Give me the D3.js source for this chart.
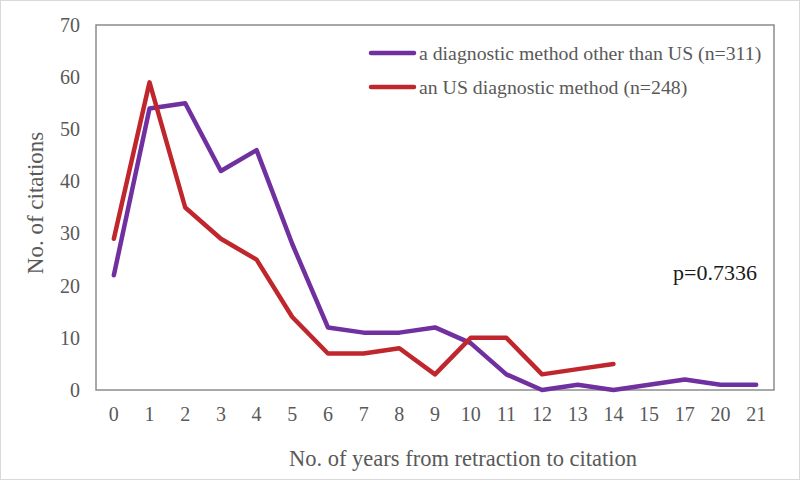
<!DOCTYPE html>
<html><head><meta charset="utf-8">
<script src="https://cdn.jsdelivr.net/npm/d3@7"></script>
<style>body{margin:0;background:#fff}svg{display:block}</style>
</head><body>
<script>
const categories = ["0","1","2","3","4","5","6","7","8","9","10","11","12","13","14","15","17","20","21"];
const otherValues = [22,54,55,42,46,28,12,11,11,12,9,3,0,1,0,1,2,1,1];
const usValues = [29,59,35,29,25,14,7,7,8,3,10,10,3,4,5];
const yTicks = [0,10,20,30,40,50,60,70];
const seriesNames = ["a diagnostic method other than US (n=311)","an US diagnostic method (n=248)"];
const pText = "p=0.7336";

const W=800,H=480;
const m={l:96,t:25,r:774,b:390};
const svg=d3.select("body").append("svg").attr("width",W).attr("height",H);
svg.append("rect").attr("x",0.5).attr("y",0.5).attr("width",W-1).attr("height",H-1).attr("fill","#fff").attr("stroke","#d9d9d9");
const x=d3.scaleBand().domain(categories).range([m.l,m.r]);
const y=d3.scaleLinear().domain([0,70]).range([m.b,m.t]);
const font="'Liberation Serif','Times New Roman',serif";
svg.append("rect").attr("x",m.l).attr("y",m.t).attr("width",m.r-m.l).attr("height",m.b-m.t).attr("fill","none").attr("stroke","#8c8c8c").attr("stroke-width",1.5);

const yAx=svg.append("g").attr("transform",`translate(${m.l},0)`).call(d3.axisLeft(y).tickValues(yTicks).tickSize(0).tickPadding(16));
yAx.select(".domain").remove();
yAx.selectAll("text").attr("font-family",font).attr("font-size",20).attr("fill","#595959");
const xAx=svg.append("g").attr("transform",`translate(0,${m.b})`).call(d3.axisBottom(x).tickSize(0).tickPadding(17));
xAx.select(".domain").remove();
xAx.selectAll("text").attr("font-family",font).attr("font-size",20).attr("fill","#595959");

const line=d3.line().x((d,i)=>x(categories[i])+x.bandwidth()/2).y(d=>y(d));
svg.append("path").datum(otherValues).attr("d",line).attr("fill","none").attr("stroke","#7030A0").attr("stroke-width",4.5).attr("stroke-linejoin","round").attr("stroke-linecap","round");
svg.append("path").datum(usValues).attr("d",line).attr("fill","none").attr("stroke","#C0272D").attr("stroke-width",4.5).attr("stroke-linejoin","round").attr("stroke-linecap","round");

const colors=["#7030A0","#C0272D"];
seriesNames.forEach((n,i)=>{
  const ly=53+i*34;
  svg.append("line").attr("x1",371).attr("x2",414).attr("y1",ly).attr("y2",ly).attr("stroke",colors[i]).attr("stroke-width",4.5).attr("stroke-linecap","round");
  svg.append("text").attr("x",419).attr("y",ly).attr("dy","0.35em").attr("font-family",font).attr("font-size",19.8).attr("fill","#595959").text(n);
});
svg.append("text").attr("x",757).attr("y",272).attr("dy","0.35em").attr("text-anchor","end").attr("font-family",font).attr("font-size",22).attr("fill","#1a1a1a").text(pText);

svg.append("text").attr("transform",`translate(35,203) rotate(-90)`).attr("text-anchor","middle").attr("dy","0.35em").attr("font-family",font).attr("font-size",23).attr("fill","#595959").text("No. of citations");
svg.append("text").attr("x",463).attr("y",458).attr("text-anchor","middle").attr("dy","0.35em").attr("font-family",font).attr("font-size",22.5).attr("fill","#595959").text("No. of years from retraction to citation");
</script>
</body></html>
